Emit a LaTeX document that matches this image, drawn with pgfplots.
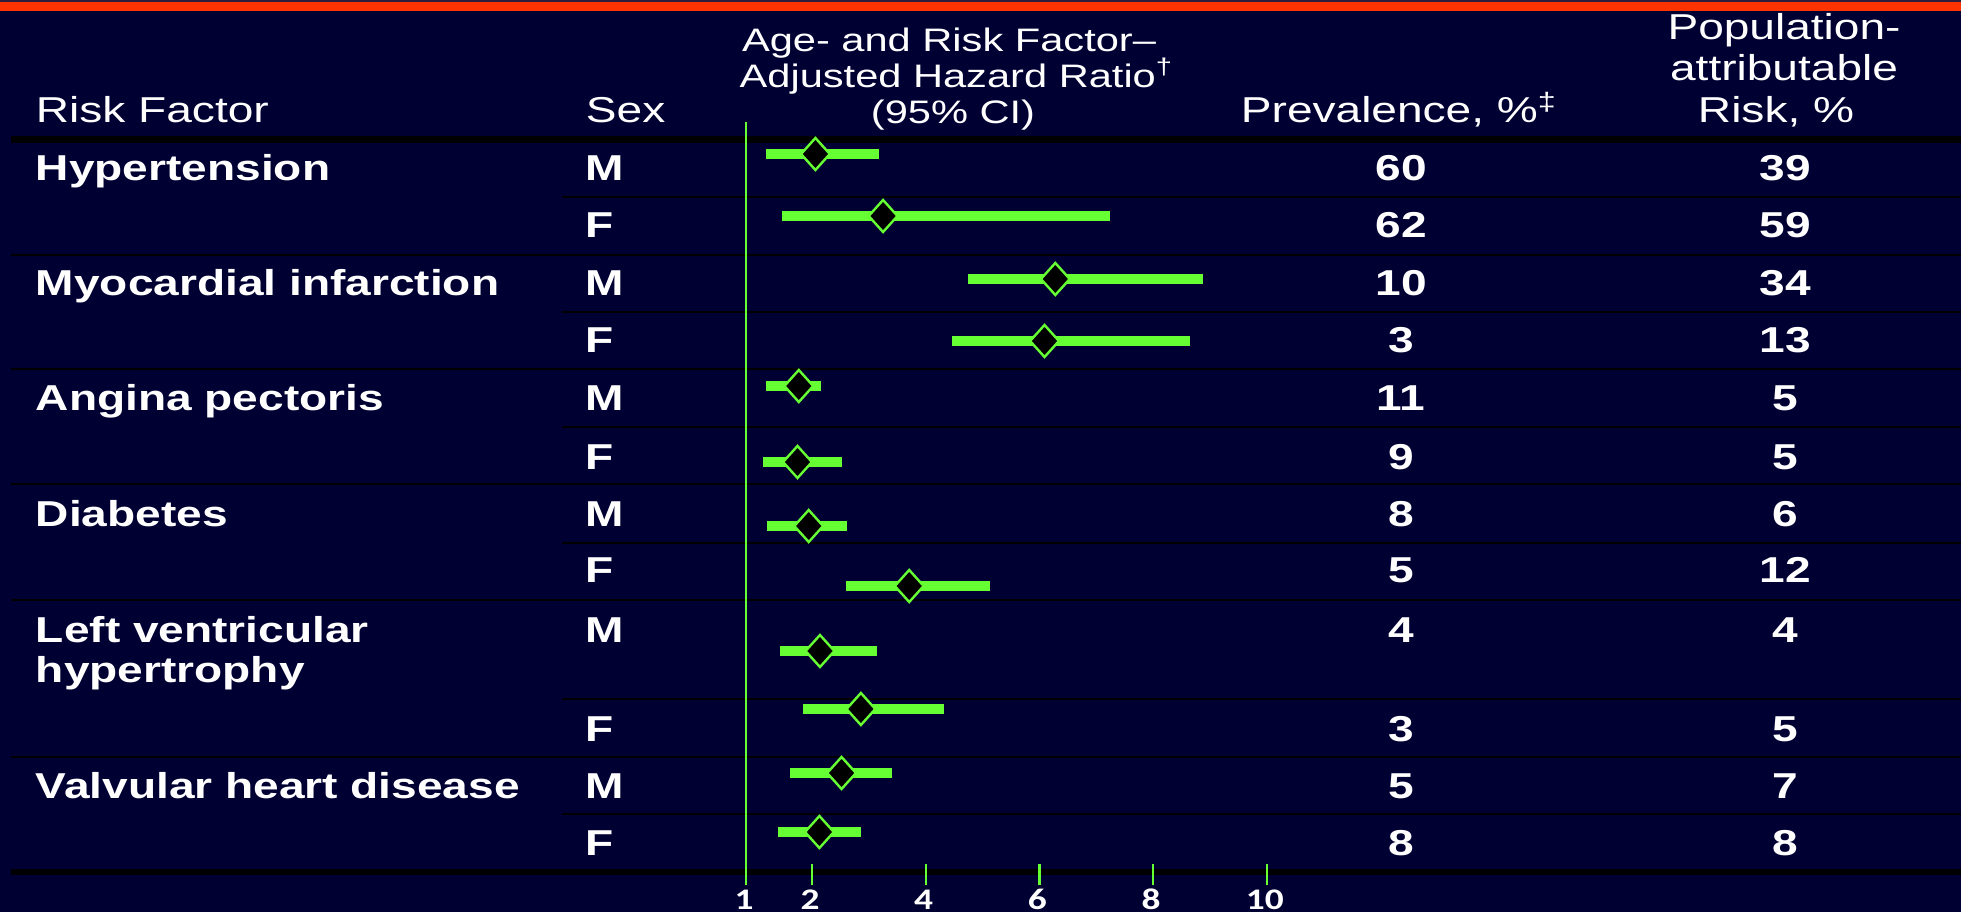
\documentclass[border=0pt]{standalone}
\usepackage{pgfplots}
\pgfplotsset{compat=1.18}
\usepackage{pgfplotstable}
\usepackage{fontspec}
\setmainfont{Liberation Sans}
\newfontfamily\carlito{Carlito}
\definecolor{navy}{RGB}{0,0,51}
\definecolor{cigreen}{RGB}{102,255,51}
\definecolor{topred}{RGB}{255,51,0}
\definecolor{topdark}{RGB}{46,30,60}

% y = row position (px from top), hr = hazard ratio, lo/hi = 95% CI
\pgfplotstableread{
y   hr   lo   hi
154 2.06 1.30 3.18
216 3.25 1.54 7.24
279 6.28 4.74 8.87
341 6.09 4.46 8.65
386 1.80 1.30 2.16
462 1.78 1.26 2.52
526 1.95 1.32 2.62
586 3.71 2.59 5.13
651 2.14 1.51 3.15
709 2.86 1.87 4.32
773 2.52 1.66 3.40
832 2.13 1.48 2.87
}\hrdata

\tikzset{
 txt/.style={text=white, inner sep=0pt, xscale=1.28},
 bodyf/.style={txt, font=\fontsize{10.24}{12}\selectfont\bfseries},
 hdrf/.style={txt, font=\fontsize{10.24}{12}\selectfont},
 midf/.style={txt, font=\fontsize{9.25}{10}\selectfont},
}

\begin{document}
\begin{tikzpicture}
\begin{scope}[x=0.1mm,y=0.1mm]
\fill[navy] (0,0) rectangle (1961,912);
\fill[topdark] (0,910) rectangle (1961,912);
\fill[topred] (0,901) rectangle (1961,910);
% thick rules
\fill[black] (11,769) rectangle (1961,776);
\fill[black] (11,37) rectangle (1961,43);
% full-width separators
\foreach \yy in {657,543,428,312,155}{\draw[black, line width=0.15mm] (11,\yy) -- (1961,\yy);}
% sex-column separators
\foreach \yy in {715,600,485,369,213,98}{\draw[black, line width=0.15mm] (562,\yy) -- (1961,\yy);}
\end{scope}

\begin{axis}[
 at={(74.6mm,2.7mm)}, anchor=south west, scale only axis,
 width=54.92mm, height=76.3mm,
 x coord trafo/.code={\pgfmathparse{#1<2 ? 2-(2-#1)*1.161 : #1}},
 xmin=1, xmax=10.5, ymin=122, ymax=885, y dir=reverse,
 axis x line*=bottom, axis y line=none,
 x axis line style={draw=none},
 xtick={1,2,4,6,8,10}, xticklabels={1,2,4,6,8,10}, ytick=\empty,
 tick align=inside, major tick length=2.1mm,
 every tick/.style={cigreen, line width=0.22mm},
 xticklabel style={font=\carlito\bfseries\fontsize{8.5}{9}\selectfont, text=white,
   anchor=base, inner sep=0pt, yshift=-2.45mm, xshift=-0.2mm, xscale=1.25},
 clip=false,
]
\addplot[cigreen, line width=0.22mm] coordinates {(1,122) (1,885)};
\addplot[cigreen, line width=1mm] coordinates {(1.30,154) (3.18,154)};
\addplot[cigreen, line width=1mm] coordinates {(1.54,216) (7.24,216)};
\addplot[cigreen, line width=1mm] coordinates {(4.74,279) (8.87,279)};
\addplot[cigreen, line width=1mm] coordinates {(4.46,341) (8.65,341)};
\addplot[cigreen, line width=1mm] coordinates {(1.30,386) (2.16,386)};
\addplot[cigreen, line width=1mm] coordinates {(1.26,462) (2.52,462)};
\addplot[cigreen, line width=1mm] coordinates {(1.32,526) (2.62,526)};
\addplot[cigreen, line width=1mm] coordinates {(2.59,586) (5.13,586)};
\addplot[cigreen, line width=1mm] coordinates {(1.51,651) (3.15,651)};
\addplot[cigreen, line width=1mm] coordinates {(1.87,709) (4.32,709)};
\addplot[cigreen, line width=1mm] coordinates {(1.66,773) (3.40,773)};
\addplot[cigreen, line width=1mm] coordinates {(1.48,832) (2.87,832)};
\addplot[only marks, mark=diamond*, mark size=1.6mm,
  mark options={fill=black, draw=cigreen, line width=0.24mm, xscale=1.2}]
  table[x=hr, y=y]{\hrdata};
\end{axis}

\begin{scope}[x=0.1mm,y=0.1mm]
% headers
\node[hdrf, anchor=base west] at (35,789) {Risk Factor};
\node[hdrf, anchor=base west] at (585,789) {Sex};
\node[midf, anchor=base] at (949,860) {Age- and Risk Factor–};
\node[midf, anchor=base] at (957,824) {Adjusted Hazard Ratio\textsuperscript{†}};
\node[midf, anchor=base] at (953,788) {(95\% CI)};
\node[hdrf, anchor=base west] at (1240,789) {Prevalence, \%\textsuperscript{‡}};
\node[hdrf, anchor=base] at (1784,872) {Population-};
\node[hdrf, anchor=base] at (1784,831) {attributable};
\node[hdrf, anchor=base] at (1776,789) {Risk, \%};
% risk factors
\node[bodyf, anchor=base west] at (35,731) {Hypertension};
\node[bodyf, anchor=base west] at (35,616) {Myocardial infarction};
\node[bodyf, anchor=base west] at (35,501) {Angina pectoris};
\node[bodyf, anchor=base west] at (35,385) {Diabetes};
\node[bodyf, anchor=base west] at (35,270) {Left ventricular};
\node[bodyf, anchor=base west] at (35,230) {hypertrophy};
\node[bodyf, anchor=base west] at (35,114) {Valvular heart disease};
% sex, prevalence, PAR
\foreach \yb/\sx/\pv/\pa in {731/M/60/39, 674/F/62/59, 616/M/10/34, 559/F/3/13,
  501/M/11/5, 442/F/9/5, 385/M/8/6, 329/F/5/12, 270/M/4/4, 171/F/3/5,
  114/M/5/7, 57/F/8/8}{
  \node[bodyf, anchor=base west] at (585,\yb) {\sx};
  \node[bodyf, anchor=base] at (1401,\yb) {\pv};
  \node[bodyf, anchor=base] at (1785,\yb) {\pa};
}
\end{scope}
\pgfresetboundingbox
\path (0,0) rectangle (196.1mm,91.2mm);
\end{tikzpicture}
\end{document}
